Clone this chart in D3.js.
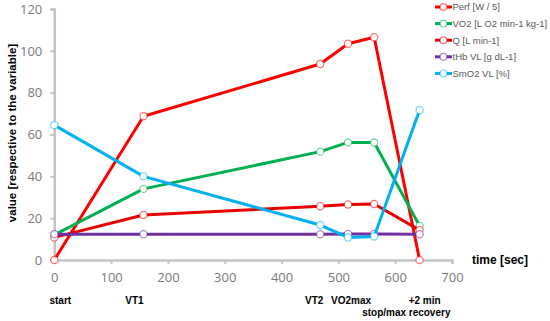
<!DOCTYPE html>
<html lang="en">
<head>
<meta charset="UTF-8">
<title>Exercise test variables</title>
<script src="https://cdn.jsdelivr.net/npm/d3@7"></script>
<style>
  body { margin: 0; background: #fff; }
  text { font-family: "Liberation Sans", Arial, sans-serif; }
</style>
</head>
<body>
<script>
    var w = 550, h = 321;

    // data
    var times = [0, 157, 468, 517, 563, 643];
    var perf  = [0, 68.7, 93.7, 103.4, 106.5, 0];
    var vo2   = [12, 34, 51.8, 56.2, 56.2, 16.3];
    var q     = [10.8, 21.5, 25.7, 26.5, 26.8, 14.3];
    var thb   = [12.3, 12.3, 12.3, 12.4, 12.4, 12.3];
    var smo2  = [64.5, 40, 16.7, 10.8, 11.2, 71.7];

    var seriesNames  = ["Perf  [W / 5]", "VO2  [L O2 min-1 kg-1]", "Q [L min-1]", "tHb VL [g dL-1]", "SmO2 VL [%]"];
    var seriesColors = ["#ff0000", "#00b050", "#e80000", "#7030a0", "#00b0f0"];
    var seriesValues = [perf, vo2, q, thb, smo2];

    var yTicks = [0, 20, 40, 60, 80, 100, 120];
    var xTicks = [0, 100, 200, 300, 400, 500, 600, 700];

    // stage labels under the axis
    var stages = ["start", "VT1", "VT2", "VO2max", "stop/max", "+2 min", "recovery"];
    var stageTimes = [0, 157, 468, 517, 563, 643, 643];

    var svg = d3.select("body").append("svg")
        .attr("width", w)
        .attr("height", h);

    var x = d3.scaleLinear().domain([0, 700]).range([54.3, 452]);
    var y = d3.scaleLinear().domain([0, 120]).range([260, 9]);

    // axes
    var yAxis = svg.append("g")
        .attr("transform", "translate(" + x(0) + ",0)")
        .call(d3.axisLeft(y).tickValues(yTicks).tickSize(4).tickPadding(8));
    var xAxis = svg.append("g")
        .attr("transform", "translate(0," + y(0) + ")")
        .call(d3.axisBottom(x).tickValues(xTicks).tickSize(4).tickPadding(9));

    [xAxis, yAxis].forEach(function (g) {
        g.select(".domain").attr("stroke", "#c4c4c4").attr("stroke-width", 2.5);
        g.selectAll(".tick line").attr("stroke", "#c4c4c4").attr("stroke-width", 2);
        g.selectAll(".tick text")
            .attr("fill", "#7a7a7a")
            .attr("font-size", 13)
            .style("font-family", "'Open Sans', 'Liberation Sans', sans-serif");
    });

    // series lines + markers
    var line = d3.line()
        .x(function (d) { return x(d[0]); })
        .y(function (d) { return y(d[1]); });

    seriesValues.forEach(function (vals, s) {
        var pts = times.map(function (t, i) { return [t, vals[i]]; });
        var g = svg.append("g");
        g.append("path")
            .datum(pts)
            .attr("d", line)
            .attr("fill", "none")
            .attr("stroke", seriesColors[s])
            .attr("stroke-width", 3)
            .attr("stroke-linejoin", "round");
        g.selectAll("circle")
            .data(pts).enter()
            .append("circle")
            .attr("cx", function (d) { return x(d[0]); })
            .attr("cy", function (d) { return y(d[1]); })
            .attr("r", 3.6)
            .attr("fill", "white")
            .attr("stroke", seriesColors[s])
            .attr("stroke-opacity", 0.55)
            .attr("stroke-width", 1.2);
    });

    // legend
    var legend = svg.append("g").attr("transform", "translate(435,7)");
    seriesNames.forEach(function (name, i) {
        var row = legend.append("g").attr("transform", "translate(0," + (i * 16.6) + ")");
        row.append("line")
            .attr("x1", 0).attr("x2", 17)
            .attr("stroke", seriesColors[i])
            .attr("stroke-width", 3);
        row.append("circle")
            .attr("cx", 8.5).attr("r", 3.4)
            .attr("fill", "white")
            .attr("stroke", seriesColors[i])
            .attr("stroke-opacity", 0.55)
            .attr("stroke-width", 1.2);
        row.append("text")
            .attr("x", 17.5)
            .attr("dy", "0.35em")
            .attr("font-size", 9.5)
            .attr("fill", "#595959")
            .text(name);
    });

    // axis titles
    svg.append("text")
        .attr("transform", "translate(16,133) rotate(-90)")
        .attr("text-anchor", "middle")
        .attr("font-size", 11.5)
        .attr("font-weight", "bold")
        .attr("fill", "#000")
        .text("value [respective to the variable]");

    svg.append("text")
        .attr("x", 472)
        .attr("y", 264)
        .attr("font-size", 12)
        .attr("font-weight", "bold")
        .attr("fill", "#000")
        .text("time [sec]");

    // stage labels: small nudges so they don't collide
    var stageDx = [6, -9, -6, 3, 10, 5, 10];
    var stageRow = [0, 0, 0, 0, 1, 0, 1];
    svg.selectAll(".stage")
        .data(stages).enter()
        .append("text")
        .attr("class", "stage")
        .attr("x", function (d, i) { return x(stageTimes[i]) + stageDx[i]; })
        .attr("y", function (d, i) { return 304 + stageRow[i] * 12; })
        .attr("text-anchor", "middle")
        .attr("font-size", 10)
        .attr("font-weight", "bold")
        .attr("fill", "#000")
        .text(function (d) { return d; });
</script>
</body>
</html>
